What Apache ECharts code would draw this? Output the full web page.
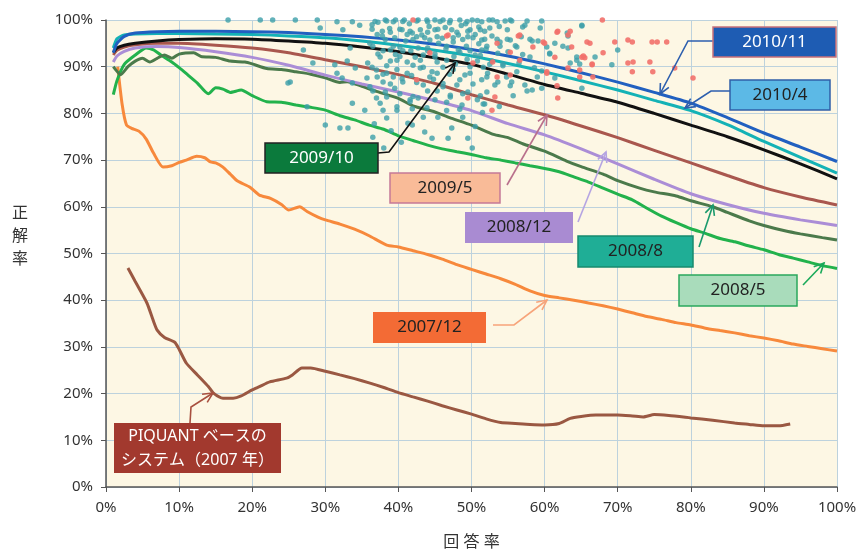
<!DOCTYPE html>
<html>
<head>
<meta charset="utf-8">
<script src="https://cdn.jsdelivr.net/npm/echarts@6.0.0/dist/echarts.min.js"></script>
<style>
html,body{margin:0;padding:0;background:#fff;}
#main{width:858px;height:551px;}
</style>
</head>
<body>
<div id="main"></div>
<script>
// 回答率 (x, %) / 正解率 (y, %)
var xTicks = [0, 10, 20, 30, 40, 50, 60, 70, 80, 90, 100];

var s201011 = [[1,93],[1.5,95],[2.5,96.5],[4,97.2],[7,97.5],[10,97.6],[15,97.6],[20,97.5],[25,97.3],[30,96.9],[35,96.4],[40,95.7],[45,94.8],[50,93.7],[55,92.3],[60,90.6],[65,88.7],[70,86.7],[75,84.5],[80,82.2],[85,79.1],[90,75.8],[95,72.8],[100,69.7]];
var s20104 = [[1,94],[1.5,96],[2.5,96.8],[4,97],[7,97.1],[10,97.1],[15,97],[20,96.9],[25,96.6],[30,96.2],[35,95.5],[40,94.6],[45,93.5],[50,92.3],[55,90.7],[60,88.9],[65,87],[70,85],[75,82.8],[80,80.6],[85,77.6],[90,74],[95,70.6],[100,67.2]];
var s200910 = [[1,93],[1.5,94],[2.5,94.6],[4,95],[7,95.5],[10,95.8],[15,96],[20,95.9],[25,95.5],[30,95],[35,94.2],[40,93.2],[45,91.9],[50,90.5],[55,88.4],[60,86.2],[65,84.3],[70,82.4],[75,80],[80,77.5],[85,75],[90,72.2],[95,69.2],[100,66]];
var s20095 = [[1,92.5],[1.5,93.5],[2.5,94.2],[4,94.7],[7,95],[10,95],[15,94.6],[20,94],[25,93],[30,91.5],[35,90],[40,88.3],[45,86.4],[50,84],[55,81.8],[60,79.7],[65,77.3],[70,74.8],[75,72.1],[80,69.4],[85,66.7],[90,64.1],[95,62.1],[100,60.4]];
var s200812 = [[1,91],[1.5,92.3],[2.5,93.3],[4,94],[7,94.3],[10,94.1],[15,93.2],[20,92],[25,90.3],[30,88.2],[35,86.3],[40,84.6],[45,82.7],[50,80.6],[55,77.8],[60,75.4],[65,72.4],[70,69.2],[75,65.9],[80,62.8],[85,60.5],[90,58.6],[95,57.2],[100,56]];
var s20088 = [[1,90],[2,88.3],[3,90],[4,91.2],[5,91.8],[6,91],[7,91.8],[8,92.5],[9,91.8],[10,92.7],[12,93],[13,92.2],[15,92],[17,91.2],[19,91],[20,90.6],[22,89.6],[24,89.4],[26,88.9],[28,88.4],[30,87.6],[32,86.6],[33,86.8],[35,85.8],[37,84.7],[40,83.2],[42,81.6],[45,80.3],[47,79.1],[50,77.5],[53,75.5],[55,74.8],[57,73.5],[60,71.9],[63,69.8],[65,68.6],[68,67],[70,65.6],[73,64],[75,63.2],[78,62.3],[80,61.3],[83,60],[85,58.8],[88,57],[90,56],[93,54.8],[95,54.2],[98,53.4],[100,52.9]];
var s20085 = [[1,84],[1.5,87],[2.5,90.5],[4,92.5],[5.5,94],[6.5,93.6],[7.5,92.5],[9,91],[10,89.8],[11,88.5],[12.5,86.5],[14,84.2],[15,85.5],[16,85.2],[17,84.5],[18.5,85],[20,83.8],[22,82.5],[24,82.4],[26,81.8],[28,81.3],[30,80.7],[32,79.5],[34,78.6],[36,77.5],[38,76.6],[40,75.2],[42,74.2],[44,73.2],[46,72.4],[48,71.8],[50,71.2],[52,70.5],[54,70],[56,69.4],[58,68.8],[60,68.2],[62,67.5],[64,66.4],[66,65.3],[68,64],[70,62.7],[72,61.5],[74,59.7],[76,58],[78,56.6],[80,55.3],[82,54.3],[84,53.2],[86,52.5],[88,51.6],[90,50.8],[92,49.8],[94,49],[96,48.2],[98,47.4],[100,46.8]];
var s200712 = [[1.6,90],[2.2,82],[2.8,77.5],[3.5,76.8],[4.5,76.2],[5.5,74.5],[6.5,71.5],[7.8,68.5],[9,68.8],[10,69.5],[11,70],[12.4,70.8],[13.5,70.5],[14.3,69.6],[15,69.4],[16,68.5],[17,67],[18,65.5],[19.7,64.2],[21,62.5],[22.5,61.8],[24,60.5],[25,59.3],[26.5,60],[27.5,59],[29,57.8],[30,57.2],[32,56.3],[34,55.2],[36,53.8],[38.4,51.8],[40,51.4],[42,50.6],[44,49.8],[46,48.8],[48,47.6],[50,46.6],[52,45.6],[54,44.6],[56,43.4],[58,42],[60,41],[62,40.5],[64,40],[66,39.4],[68,38.8],[70,38.1],[72,37.3],[74,36.5],[76,35.9],[78,35.2],[80,34.7],[82,34],[84,33.5],[86,33],[88,32.4],[90,31.9],[92,31.3],[94,30.6],[96,30.1],[98,29.6],[100,29.1]];
var sPiquant = [[3,46.9],[4,44],[5.6,39.4],[6.5,35.5],[7,33.6],[8,32],[9.4,31],[10,29.5],[11,26.5],[12.5,24],[14,21.5],[14.7,20.1],[16,19],[17.4,19],[18.5,19.5],[20,20.8],[21,21.5],[22.4,22.5],[24.7,23.3],[25.5,24],[26.8,25.5],[28,25.5],[30,24.8],[32,24],[34,23.2],[36,22.3],[38,21.3],[40,20.2],[42,19.3],[44,18.4],[46,17.4],[48,16.5],[50,15.6],[52,14.6],[54,13.8],[56,13.6],[58,13.4],[60,13.3],[62,13.6],[63.5,14.7],[65,15.1],[67,15.4],[70,15.4],[72,15.2],[73.5,15],[75,15.5],[77,15.3],[80,14.8],[83,14.3],[86,13.7],[88,13.4],[90,13.1],[92,13.1],[93.6,13.5]];

// 散布点
var dotsTeal = [
  [16.7,100],[21.1,100],[22.8,100],[25.9,100],[28.9,100],[31.6,99.6],[33.7,99.6],[36.4,99],[38.2,100],[39.3,99.6],[40.8,100],[42.7,100],[44,99.6],[46.1,100],[48.4,100],[50.1,100],[51.4,99.6],[53.5,99.6],[55.3,100],[57.3,98.9],[45,100],[47,99.4],[49.2,99.2],[52.4,100],[41.5,99.2],[37.2,99.5],
  [29.3,98.3],[32.4,97.9],[34.7,98.9],[40.5,97.9],[41.9,97.2],[43,97.9],[45,97.9],[47.3,97.9],[49.8,97.9],[52.5,98.3],[54.9,97.9],[59.4,98.3],[65.1,98.9],[63.1,97.2],[38.8,98.2],[44.2,98.6],[46.4,98.4],[48.6,98.8],[51,98.5],[53.8,98.6],
  [36.1,95],[42.5,96.4],[44.3,95.7],[46,96.1],[49.5,96.4],[51.4,95.7],[53.9,95.3],[55.3,95.7],[61.4,95],[39.5,96.2],[41,95.5],[47.5,95.3],[50.5,96.9],[56.8,96.4],[58.3,95.5],[43.2,96.8],[45.5,95],[48.2,96.8],[52.8,96.6],[37.8,96.6],
  [27,93.6],[33.4,94],[38.9,93.6],[37.5,92.1],[43.4,92.5],[45,92.1],[48.4,93.1],[50.5,92.5],[53.6,92.9],[63.2,94],[60.7,92.9],[70,93.6],[66.9,92.1],[40.2,94.2],[41.7,93.4],[46.5,93.8],[49.3,94.4],[52,93.8],[55,93.2],[57,92.6],[44,94],[47.6,92.2],[42.3,92],[39.6,92.6],[51,94.9],[56,94.5],
  [28.3,90.8],[31.3,90.4],[34.1,89.7],[35.8,90.8],[37,89.3],[39.8,91.4],[41.2,91],[43,89.7],[44.6,88.9],[46.1,89.9],[64.4,91.4],[69.2,90.4],[63.5,90.8],[47.8,90.6],[49.8,90],[52.5,90.5],[54.3,90.2],[56.5,90.8],[58.6,89.8],[42,90.3],[45.3,91],[50.8,91.2],[38.4,90.2],[33,91.2],
  [25.2,86.7],[31.6,88.6],[32.3,87.6],[35.7,87.6],[38.4,88.6],[40.6,86.7],[37.9,86.7],[49.1,88.2],[51.4,87.2],[55.5,86.7],[61.4,87.6],[43.4,86.1],[46.1,85.7],[48,86.1],[53.2,86.1],[57.3,86.1],[41.8,88.1],[44.8,87.3],[47,88.4],[59.6,85.4],[39.3,87.8],[52.2,88.6],[54.8,87.8],
  [24.9,86.5],[33.7,86.5],[36.1,85.7],[38.2,84.6],[39.5,85.4],[58.3,85],[65.1,85.4],[52.1,84.6],[42.7,83.3],[45,82.9],[47.1,83.9],[50.8,82.9],[41.6,82.9],[44,84.8],[49.5,84.6],[55.7,83.8],[37,83.3],
  [27.5,81.4],[33.7,82.2],[35.4,80.7],[37.9,80.7],[39.8,80.7],[48.7,81.8],[43.4,79.2],[45.4,79.2],[48.8,79.2],[38.4,79],[41.9,81],[46.6,80.6],[51.5,80.2],[53.8,81.5],
  [32,76.9],[33.1,76.9],[30,77.5],[41.3,77.9],[47.3,76.9],[41.9,77.5],[43.6,76],[36.7,77.8],[39,76.3],[50.5,77.2],
  [36.5,74.9],[44.6,74.7],[46.8,74.7],[49.5,74.7],[50.1,72.6],[40.4,73.8],[38,72.6],
  [36.8,99.7],[38.4,99.8],[39.6,100],[40.6,99.7],[42.5,99.8],[43.9,100],[45.7,99.7],[47.1,99.9],[49.4,99.7],[50.8,99.9],
  [36.4,98],[37.8,97.6],[38.9,97.4],[40.2,98],[41.6,97.6],[44,97.4],[45.4,98],[48,97.4],[49.5,97.6],[51.2,97.9],
  [37.1,96.9],[38.2,95.8],[41.2,96.9],[42,95.8],[43.6,96.2],[45.3,96.4],[47.5,96.2],[48.8,95.8],[50.2,96.2],[51.8,95.9],
  [36.5,94.4],[37.9,93.4],[39.3,94.4],[40.6,93.4],[42.7,94],[44,93.4],[46.6,94.4],[48.2,93.6],[49.8,93.4],[51.4,93.6],
  [37.2,92.7],[38.9,91.2],[40.2,92.2],[43,91.4],[45,92.7],[46.6,91.4],[49.4,91.6],[51.2,92.4],
  [36.4,89.9],[37.9,88.4],[39.8,89.4],[41.2,88.6],[43.4,89.9],[45.3,88.6],[47.5,89.4],[49.8,88.6],[51.6,89.9],
  [37.1,87.8],[38.9,86.3],[40.5,87.4],[42.5,86.6],[44.3,87.8],[46.1,86.4],[48.4,87.2],[50.2,86.3],
  [36.5,84.8],[38.4,83.5],[40.2,84.2],[42,83.6],[45.3,84.8],[47.1,83.5],[48.8,84.2],[51.2,83.8],
  [37.5,82.2],[39.8,81.4],[41.6,82.5],[43.9,81.2],[46.6,82.4],[48.4,80.9],[51.8,82],
  [52.9,100],[54.6,99.8],[55.5,99.8],[57.6,99.8],[59.6,99.8],[65.1,98.7],[57,98.5],[51.8,97.6],[53.5,95.9],[54.9,95.9],[58,95.9],[59.1,95.5],[63.2,96.6],
  [52.1,94.4],[53.9,94.4],[56.2,94.2],[60.3,94.2],[62.5,94.4],[64.4,92.1],[60.7,92.7],[58,92.1],[52.8,91.2],[54.3,90.6],[56.2,88.9],[59,87.8],[59.6,89.1],
  [52.1,87.8],[53.6,86.7],[55.3,85.9],[57.6,84.8],[51.6,82],[64.8,90.6]
];
var dotsRed = [
  [42,100],[46.8,96.8],[56.6,96.8],[61.7,97.4],[58.4,94.2],[60,95],[61.4,92],[50.2,90.8],[52.9,91],[56.6,91.4],[55.3,88.2],[53.5,87.8],[60.3,88.6],[49.5,83.3],[52.8,80.7],[61.8,83.3],[42.5,87.2],
  [67.9,100],[63.2,96.8],[63.7,94.2],[66.2,95],[69.6,95.3],[71.4,95.7],[72,95.3],[74.7,95.3],[75.4,95.3],[76.7,95.3],[65.1,92],[65.5,91.9],[68,93],[66.5,90.4],[71.4,90.8],[72.1,91],[72,88.9],[74.8,88.9],[74.4,91],[77.8,89.7],[80.3,87.6],[66.6,87.8],[63.2,89.7],[64.8,89.3],[53.5,95],[59.8,95.3],[44.3,93],
  [56.4,96.6],[61.8,97.6],[63.5,97.6],[65.8,95.3],[66.5,90.6],[65.3,92.3],[60.3,88.9],[61.7,85.9],[53.2,83.5],[55.3,93.1],[64.8,87.8],[46.6,96.6]
];

var lineDefs = [
  ['PIQUANTベースのシステム（2007年）', sPiquant, '#9a5842'],
  ['2007/12', s200712, '#f7893c'],
  ['2008/5', s20085, '#22b24c'],
  ['2008/8', s20088, '#4b7a4b'],
  ['2008/12', s200812, '#ab8dd6'],
  ['2009/5', s20095, '#a9574e'],
  ['2009/10', s200910, '#111111'],
  ['2010/4', s20104, '#14b2b6'],
  ['2010/11', s201011, '#2160c0']
];

var myChart = echarts.init(document.getElementById('main'));

var series = lineDefs.map(function (d) {
  return {
    name: d[0], type: 'line', data: d[1], showSymbol: false, smooth: 0.2,
    lineStyle: {color: d[2], width: 3}, itemStyle: {color: d[2]}, z: 3
  };
});
series.push({
  name: 'teal', type: 'scatter', data: dotsTeal, symbolSize: 5.5,
  itemStyle: {color: '#3c9fa9'}, z: 4
});
series.push({
  name: 'red', type: 'scatter', data: dotsRed, symbolSize: 5.5,
  itemStyle: {color: '#f2706a', opacity: 0.9}, z: 4
});

// 注釈（ラベル箱 + 矢印）
function arrowHead(p0, p1, len) {
  var a = Math.atan2(p1[1] - p0[1], p1[0] - p0[0]);
  var s = 0.45;
  return [
    [p1[0] - len * Math.cos(a - s), p1[1] - len * Math.sin(a - s)],
    p1,
    [p1[0] - len * Math.cos(a + s), p1[1] - len * Math.sin(a + s)]
  ];
}
function arrow(pts, color) {
  var n = pts.length;
  return [
    {type: 'polyline', shape: {points: pts}, style: {stroke: color, lineWidth: 1.6, fill: null}, z: 20},
    {type: 'polyline', shape: {points: arrowHead(pts[n - 2], pts[n - 1], 11)}, style: {stroke: color, lineWidth: 1.6, fill: null}, z: 20}
  ];
}
function box(x, y, w, h, fill, stroke, text, color, fs) {
  return [
    {type: 'rect', shape: {x: x, y: y, width: w, height: h}, style: {fill: fill, stroke: stroke || null, lineWidth: stroke ? 1.5 : 0}, z: 21},
    {type: 'text', x: x + w / 2, y: y + h / 2, style: {text: text, fill: color, font: (fs || 17) + 'px "Noto Sans", "Noto Sans CJK JP", sans-serif', align: 'center', verticalAlign: 'middle', lineHeight: 24}, z: 22}
  ];
}

var graphics = [].concat(
  arrow([[713,41],[688,41],[660,94]], '#2d5fae'),
  arrow([[730,91],[711,91],[685,108]], '#2d5fae'),
  arrow([[378,153],[389,152],[455,63]], '#111'),
  arrow([[507,185],[547,115]], '#b9708c'),
  arrow([[578,222],[606,152]], '#b5a4e2'),
  arrow([[699,247],[713,205]], '#1a9a6c'),
  arrow([[803,285],[824,263]], '#1aaa5a'),
  arrow([[493,325],[514,325],[547,300]], '#f7a47a'),
  arrow([[190,423],[191,407],[213,393]], '#a8503f'),
  box(713, 27, 123, 30, '#1e5cb3', '#c8707a', '2010/11', '#fff'),
  box(730, 80, 100, 30, '#5cb9e6', '#2f5fa8', '2010/4', '#222'),
  box(265, 143, 113, 30, '#0b7a3c', '#222', '2009/10', '#fff'),
  box(390, 173, 110, 30, '#f9bb98', '#c57a96', '2009/5', '#222'),
  box(465, 212, 108, 31, '#a98bd2', null, '2008/12', '#222'),
  box(578, 236, 115, 31, '#1fae96', '#178a6e', '2008/8', '#222'),
  box(679, 275, 118, 31, '#a9dcbb', '#2aa85c', '2008/5', '#222'),
  box(373, 312, 113, 31, '#f36b35', null, '2007/12', '#222'),
  box(114, 423, 167, 50, '#a2392e', null, 'PIQUANT ベースの\nシステム（2007 年）', '#fff', 16),
  [{type: 'text', x: 20, y: 235, style: {text: '正\n解\n率', fill: '#333', font: '16px "Noto Sans CJK JP", sans-serif', align: 'center', verticalAlign: 'middle', lineHeight: 23}}]
);

var option = {
  animation: false,
  backgroundColor: '#fff',
  textStyle: {fontFamily: '"Noto Sans", "Noto Sans CJK JP", sans-serif'},
  grid: {left: 106, right: 21, top: 20, bottom: 64, containLabel: false, outerBoundsMode: 'none',
    show: true, backgroundColor: '#fdf7e4', borderWidth: 0},
  xAxis: {
    type: 'value', min: xTicks[0], max: xTicks[xTicks.length - 1], interval: 10,
    name: '回 答 率', nameLocation: 'middle', nameGap: 47,
    nameTextStyle: {fontSize: 16, color: '#333'},
    axisLine: {show: true, lineStyle: {color: '#555', width: 1.5}},
    axisTick: {show: true, length: 5, lineStyle: {color: '#555'}},
    axisLabel: {formatter: '{value}%', fontSize: 15, color: '#333', margin: 13},
    splitLine: {show: true, lineStyle: {color: '#bdd2dd', width: 1}}
  },
  yAxis: {
    type: 'value', min: 0, max: 100, interval: 10,
    axisLine: {show: true, lineStyle: {color: '#555', width: 1.5}},
    axisTick: {show: true, length: 5, lineStyle: {color: '#555'}},
    axisLabel: {formatter: '{value}%', fontSize: 15, color: '#333', margin: 13},
    splitLine: {show: true, lineStyle: {color: '#bdd2dd', width: 1}}
  },
  series: series,
  graphic: graphics
};
myChart.setOption(option);
window.onresize = function () {
  myChart.resize();
};
</script>
</body>
</html>
